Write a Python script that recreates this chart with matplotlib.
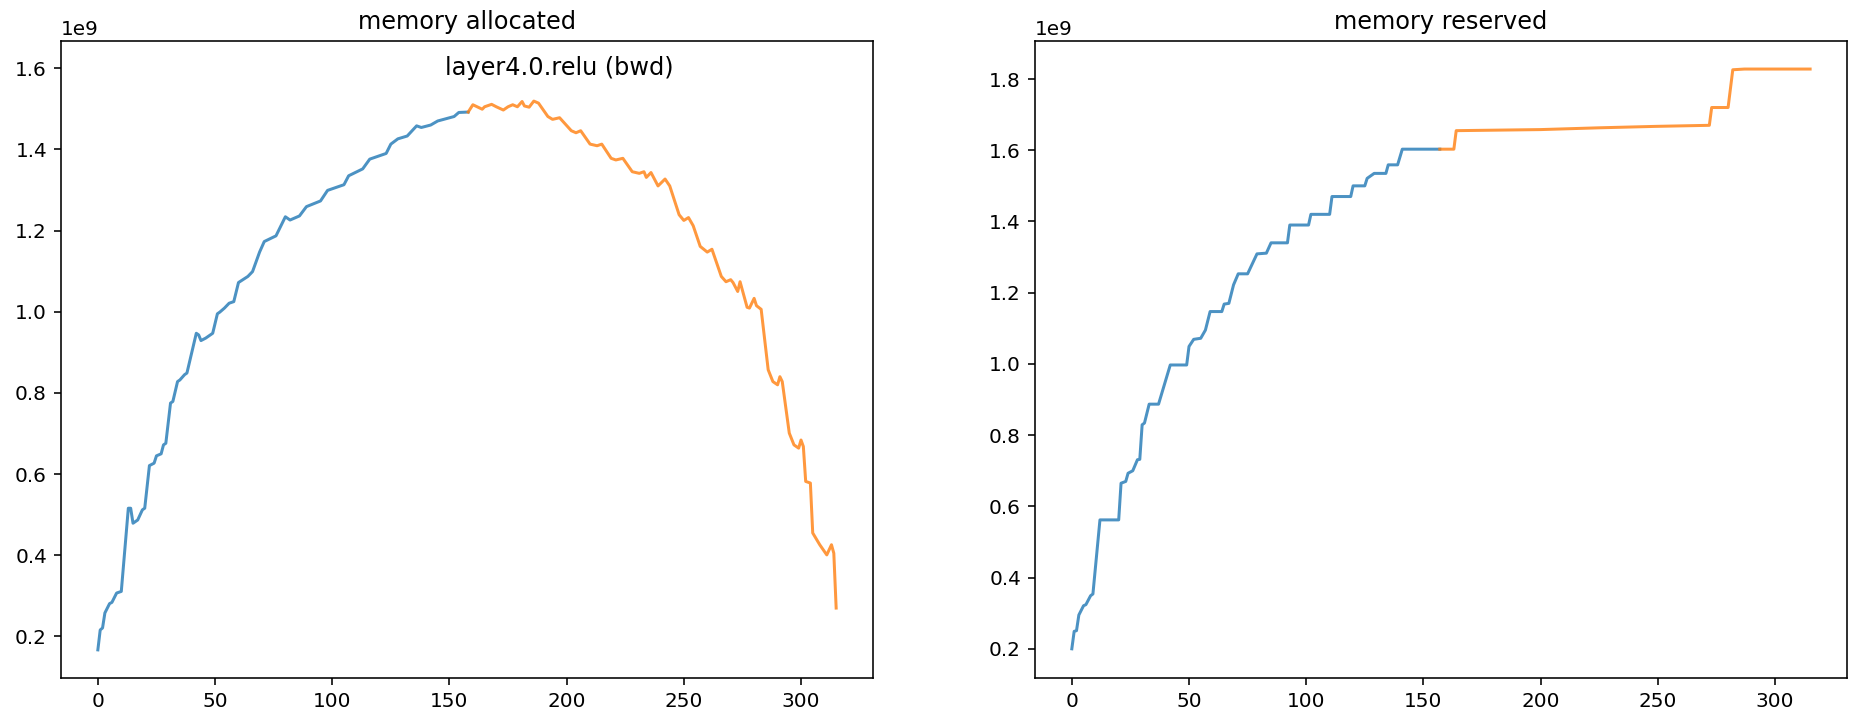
import matplotlib

matplotlib.use('Agg')

import matplotlib.pyplot as plt

# memory allocated (units of 1e9 bytes), forward part then backward part
alloc_fwd_x = [0, 1, 2, 3, 5, 6, 8, 10, 13, 14, 15, 17, 19, 20, 22, 24, 25, 27, 28, 29,
               31, 32, 34, 35, 37, 38, 42, 43, 44, 46, 49, 51, 52, 54, 56, 58, 60, 64,
               66, 69, 71, 76, 80, 82, 86, 89, 95, 98, 105, 107, 113, 116, 123, 125,
               128, 132, 136, 138, 142, 145, 152, 154, 158]
alloc_fwd_y = [0.167, 0.216, 0.221, 0.258, 0.281, 0.284, 0.307, 0.311, 0.516, 0.516,
               0.479, 0.487, 0.512, 0.516, 0.621, 0.627, 0.645, 0.650, 0.672, 0.676,
               0.775, 0.779, 0.828, 0.832, 0.845, 0.849, 0.947, 0.943, 0.929, 0.935,
               0.947, 0.995, 0.999, 1.009, 1.021, 1.025, 1.072, 1.087, 1.099, 1.147,
               1.173, 1.187, 1.234, 1.226, 1.236, 1.259, 1.273, 1.299, 1.313, 1.335,
               1.352, 1.376, 1.390, 1.413, 1.426, 1.433, 1.458, 1.454, 1.460, 1.470,
               1.481, 1.491, 1.492]
alloc_bwd_x = [158, 160, 164, 165, 168, 170, 173, 175, 177, 179, 181, 182, 184, 186, 188,
               192, 194, 197, 202, 204, 206, 210, 213, 215, 219, 221, 224, 228, 231, 233,
               234, 236, 239, 242, 244, 248, 250, 252, 254, 257, 260, 262, 266, 268, 270,
               271, 273, 274, 277, 278, 280, 281, 283, 286, 288, 290, 291, 292, 295, 297,
               299, 300, 301, 302, 304, 305, 308, 311, 313, 314, 315]
alloc_bwd_y = [1.492, 1.510, 1.499, 1.505, 1.511, 1.505, 1.497, 1.505, 1.510, 1.505,
               1.518, 1.507, 1.504, 1.519, 1.514, 1.481, 1.474, 1.478, 1.446, 1.441,
               1.446, 1.413, 1.409, 1.413, 1.378, 1.374, 1.378, 1.345, 1.341, 1.345,
               1.331, 1.343, 1.310, 1.327, 1.310, 1.239, 1.225, 1.232, 1.212, 1.161,
               1.147, 1.154, 1.087, 1.074, 1.079, 1.072, 1.050, 1.074, 1.011, 1.009,
               1.033, 1.015, 1.006, 0.857, 0.828, 0.820, 0.840, 0.828, 0.701, 0.672,
               0.664, 0.684, 0.668, 0.582, 0.578, 0.455, 0.426, 0.401, 0.426, 0.405,
               0.270]

# memory reserved (units of 1e9 bytes)
resv_fwd_x = [0, 1, 2, 3, 5, 6, 8, 9, 12, 20, 21, 23, 24, 26, 28, 29, 30, 31, 33, 37,
              42, 49, 50, 52, 55, 57, 59, 64, 65, 67, 69, 71, 75, 79, 83, 85, 92, 93,
              101, 102, 110, 111, 119, 120, 125, 126, 129, 134, 135, 139, 141, 157]
resv_fwd_y = [0.200, 0.249, 0.251, 0.295, 0.321, 0.324, 0.349, 0.354, 0.562, 0.562,
              0.665, 0.670, 0.693, 0.700, 0.731, 0.732, 0.829, 0.834, 0.887, 0.887,
              0.997, 0.997, 1.049, 1.069, 1.072, 1.095, 1.147, 1.147, 1.168, 1.170,
              1.222, 1.253, 1.253, 1.309, 1.311, 1.340, 1.340, 1.390, 1.390, 1.420,
              1.420, 1.470, 1.470, 1.500, 1.500, 1.521, 1.535, 1.535, 1.559, 1.559,
              1.603, 1.603]
resv_bwd_x = [157, 163, 164, 200, 225, 249, 272, 273, 280, 282, 287, 315]
resv_bwd_y = [1.603, 1.603, 1.655, 1.658, 1.663, 1.667, 1.670, 1.720, 1.720, 1.826,
              1.828, 1.828]

peak_label = 'layer4.0.relu (bwd)'

fig = plt.figure(figsize=(1858 / 144, 726 / 144), dpi=144)
ax1 = fig.add_axes([0.0328, 0.066, 0.4699 - 0.0328, 0.9435 - 0.066])
ax2 = fig.add_axes([0.557, 0.066, 0.9941 - 0.557, 0.9435 - 0.066])

ax1.plot(alloc_fwd_x, [v * 1e9 for v in alloc_fwd_y], color='tab:blue', alpha=0.8)
ax1.plot(alloc_bwd_x, [v * 1e9 for v in alloc_bwd_y], color='tab:orange', alpha=0.8)
ax1.set_ylim(0.0975e9, 1.667e9)
ax1.set_title('memory allocated')
ax1.text(197, 1.6e9, peak_label, ha='center', va='center', fontsize=12)

ax2.plot(resv_fwd_x, [v * 1e9 for v in resv_fwd_y], color='tab:blue', alpha=0.8)
ax2.plot(resv_bwd_x, [v * 1e9 for v in resv_bwd_y], color='tab:orange', alpha=0.8)
ax2.set_ylim(0.1178e9, 1.9067e9)
ax2.set_title('memory reserved')

fig.savefig('out.png', dpi=144)
